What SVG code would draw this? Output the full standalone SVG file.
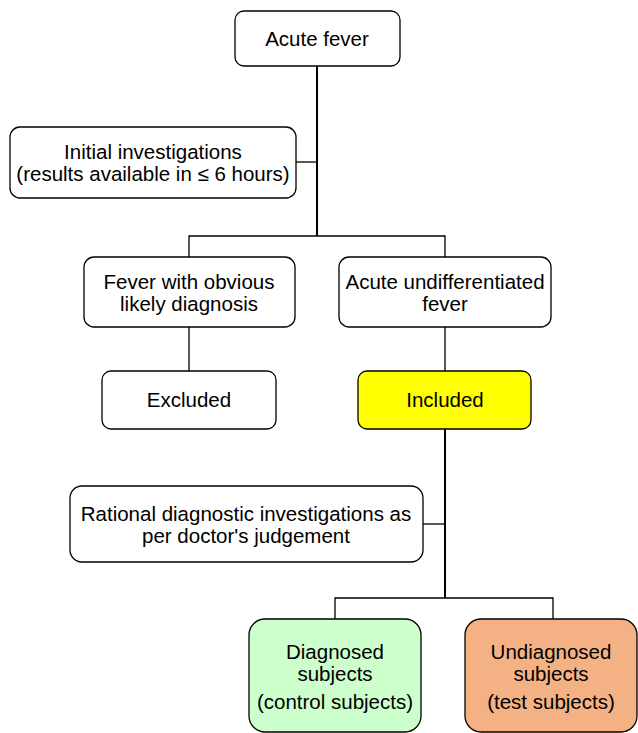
<svg xmlns="http://www.w3.org/2000/svg" width="638" height="733" viewBox="0 0 638 733">
<style>
.box{stroke:#000;stroke-width:1.3;fill:#fff}
.t{font-family:"Liberation Sans",Arial,Helvetica,sans-serif;font-size:20.5px;fill:#000;text-anchor:middle}
.c{stroke:#000;stroke-width:2;fill:none}
.c1{stroke:#000;stroke-width:1.3;fill:none}
</style>
<rect width="638" height="733" fill="#fff"/>
<g id="connectors">
<path class="c" d="M317 66 V236"/>
<path class="c1" d="M296 162 H317"/>
<path class="c1" d="M189 257 V236 H445 V257"/>
<path class="c1" d="M189 327 V371"/>
<path class="c1" d="M445 327 V371"/>
<path class="c" d="M445 429 V598"/>
<path class="c1" d="M423 524 H445"/>
<path class="c1" d="M335 619 V598 H553 V619"/>
</g>
<g id="acute-fever">
<rect class="box" x="235" y="11" width="165" height="55" rx="9"/>
<text class="t" x="317" y="46">Acute fever</text>
</g>
<g id="initial-investigations">
<rect class="box" x="10" y="127" width="286" height="71" rx="10"/>
<text class="t" x="153" y="159">Initial investigations</text>
<text class="t" x="153" y="181">(results available in ≤ 6 hours)</text>
</g>
<g id="fever-obvious">
<rect class="box" x="84" y="257" width="211" height="70" rx="10"/>
<text class="t" x="189" y="289">Fever with obvious</text>
<text class="t" x="189" y="311">likely diagnosis</text>
</g>
<g id="acute-undifferentiated">
<rect class="box" x="339" y="257" width="212" height="70" rx="10"/>
<text class="t" x="445" y="289">Acute undifferentiated</text>
<text class="t" x="445" y="311">fever</text>
</g>
<g id="excluded">
<rect class="box" x="102" y="371" width="174" height="58" rx="9"/>
<text class="t" x="189" y="407">Excluded</text>
</g>
<g id="included">
<rect class="box" x="358" y="371" width="173" height="58" rx="9" style="fill:#ffff00"/>
<text class="t" x="445" y="407">Included</text>
</g>
<g id="rational">
<rect class="box" x="70" y="486" width="353" height="76" rx="12"/>
<text class="t" x="246" y="521">Rational diagnostic investigations as</text>
<text class="t" x="246" y="543">per doctor's judgement</text>
</g>
<g id="diagnosed">
<rect class="box" x="249" y="619" width="172" height="113" rx="16" style="fill:#ccffcc"/>
<text class="t" x="335" y="659">Diagnosed</text>
<text class="t" x="335" y="681">subjects</text>
<text class="t" x="335" y="709">(control subjects)</text>
</g>
<g id="undiagnosed">
<rect class="box" x="465" y="619" width="172" height="113" rx="16" style="fill:#f4b183"/>
<text class="t" x="551" y="659">Undiagnosed</text>
<text class="t" x="551" y="681">subjects</text>
<text class="t" x="551" y="709">(test subjects)</text>
</g>
</svg>
